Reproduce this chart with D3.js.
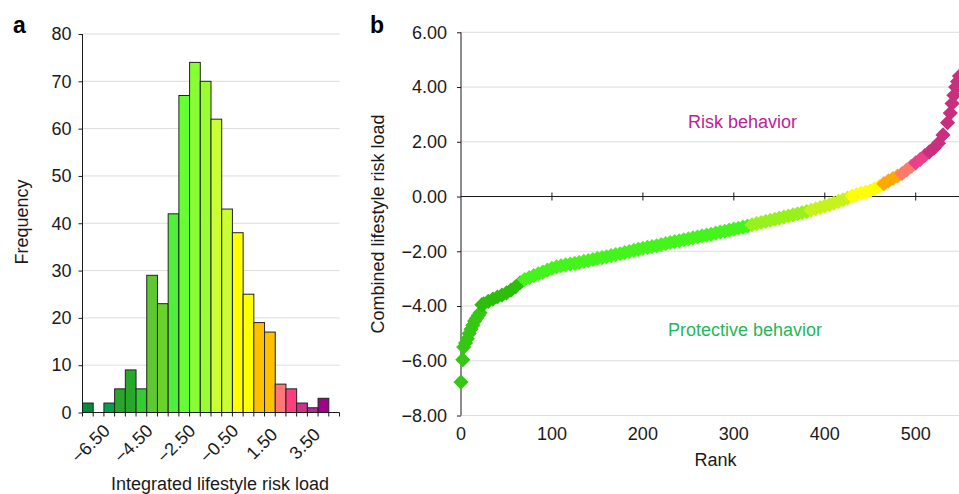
<!DOCTYPE html>
<html>
<head>
<meta charset="utf-8">
<script src="https://cdn.jsdelivr.net/npm/d3@7"></script>
<style>
  body { margin: 0; background: #fff; }
  svg { display: block; font-family: "Liberation Sans", Arial, sans-serif; }
</style>
</head>
<body>
<svg id="chart" width="959" height="494"></svg>
<script>
// panel a: histogram of integrated lifestyle risk load
const binCentres = [-6.5, -6.0, -5.5, -5.0, -4.5, -4.0, -3.5, -3.0, -2.5, -2.0, -1.5, -1.0,
                    -0.5, 0.0, 0.5, 1.0, 1.5, 2.0, 2.5, 3.0, 3.5, 4.0, 4.5, 5.0];
const binCounts = [2, 0, 2, 5, 9, 5, 29, 23, 42, 67, 74, 70, 62, 43, 38, 25, 19, 17, 6, 5, 2, 1, 3, 0];
const binColours = ["#008a3c", "#008a3c", "#00a04e", "#2aa52c", "#28a82a", "#33cc33", "#5ec832", "#6ad22b",
                    "#4ef03a", "#66ff33", "#88ff33", "#99ff33", "#ccff33", "#ccff33", "#ffff00", "#ffff00",
                    "#ffc000", "#ffc000", "#ff7777", "#ff3d7f", "#cc3388", "#b02a98", "#a0008a", "#a0008a"];
const freqTicks = [0, 10, 20, 30, 40, 50, 60, 70, 80];
const binLabelEvery = 4;

// panel b: combined lifestyle risk load by rank
const ranks = [0, 2, 3, 5, 7, 9, 11, 13, 15, 17, 19, 21, 23, 25, 30, 35, 40, 45, 50, 55, 60, 65,
  70, 75, 80, 85, 90, 95, 100, 105, 110, 115, 120, 125, 130, 135, 140, 145, 150, 155, 160, 165,
  170, 175, 180, 185, 190, 195, 200, 205, 210, 215, 220, 225, 230, 235, 240, 245, 250, 255, 260,
  265, 270, 275, 280, 285, 290, 295, 300, 305, 310, 315, 320, 325, 330, 335, 340, 345, 350, 355,
  360, 365, 370, 375, 380, 385, 390, 395, 400, 405, 410, 415, 420, 425, 430, 435, 440, 445, 450,
  455, 460, 465, 470, 475, 480, 485, 490, 495, 500, 505, 510, 515, 520, 525, 530, 535, 538, 540,
  542, 544, 546, 548];
const riskLoads = [-6.78, -5.96, -5.5, -5.35, -5.2, -5.0, -4.85, -4.7, -4.55, -4.45, -4.35, -4.25,
  -3.95, -3.92, -3.83, -3.75, -3.67, -3.6, -3.52, -3.42, -3.3, -3.15, -3.03, -2.96, -2.89, -2.82,
  -2.76, -2.69, -2.62, -2.57, -2.53, -2.5, -2.47, -2.44, -2.41, -2.37, -2.34, -2.3, -2.26, -2.23,
  -2.2, -2.16, -2.12, -2.09, -2.05, -2.01, -1.97, -1.93, -1.89, -1.86, -1.83, -1.8, -1.76, -1.72,
  -1.68, -1.65, -1.62, -1.58, -1.55, -1.51, -1.48, -1.44, -1.41, -1.38, -1.34, -1.3, -1.27, -1.23,
  -1.19, -1.16, -1.12, -1.08, -1.03, -0.99, -0.95, -0.91, -0.87, -0.83, -0.79, -0.75, -0.71, -0.67,
  -0.63, -0.59, -0.55, -0.5, -0.45, -0.4, -0.35, -0.3, -0.24, -0.18, -0.12, -0.06, 0.02, 0.07, 0.12,
  0.16, 0.21, 0.29, 0.38, 0.47, 0.57, 0.66, 0.75, 0.84, 0.97, 1.1, 1.23, 1.36, 1.5, 1.63, 1.77, 1.95,
  2.25, 2.7, 3.05, 3.4, 3.7, 4.0, 4.2, 4.4];
const rankBreaks = [23, 68, 318, 382, 428, 462, 484, 500, 511];
const rankColours = ["#34c812", "#2cbe0a", "#44f41c", "#96f21a", "#c6f21e", "#ffff00",
                     "#ffa800", "#ff7a6c", "#e8428a", "#c8307e"];
const loadTicks = [-8, -6, -4, -2, 0, 2, 4, 6];
const rankTicks = [0, 100, 200, 300, 400, 500];

const svg = d3.select("#chart");
const TEXT = "#1a1a1a";
const GRID = "#dcdcdc";
const FONT = "18px";

function styleAxis(g) {
  g.select(".domain").remove();
  g.selectAll(".tick line").attr("stroke", TEXT);
  g.selectAll(".tick text").attr("fill", TEXT).style("font-size", FONT);
}

// ---------- panel a ----------
const xA = d3.scaleBand()
    .domain(binCentres)
    .range([82.5, 339.5])
    .padding(0);

const yA = d3.scaleLinear()
    .domain([0, 80])
    .range([412.5, 34]);

const panelA = svg.append("g").attr("id", "panelA");

panelA.selectAll("line.grid")
  .data(freqTicks.filter(d => d > 0))
    .enter()
  .append("line")
    .attr("class", "grid")
    .attr("x1", xA.range()[0])
    .attr("x2", xA.range()[1])
    .attr("y1", d => yA(d))
    .attr("y2", d => yA(d))
    .attr("stroke", GRID)
    .attr("stroke-width", 1);

panelA.selectAll("rect.bin")
  .data(binCentres.map((d, i) => ({x: d, n: binCounts[i], c: binColours[i]})).filter(d => d.n > 0))
    .enter()
  .append("rect")
    .attr("class", "bin")
    .attr("x", d => xA(d.x))
    .attr("y", d => yA(d.n))
    .attr("width", xA.bandwidth())
    .attr("height", d => yA(0) - yA(d.n))
    .attr("fill", d => d.c)
    .attr("stroke", "#222")
    .attr("stroke-width", 1);

panelA.append("g")
    .attr("transform", `translate(${xA.range()[0]},0)`)
    .call(d3.axisLeft(yA).tickValues(freqTicks).tickSize(4).tickSizeOuter(0).tickPadding(7))
    .call(styleAxis);

panelA.append("line")
    .attr("x1", xA.range()[0]).attr("x2", xA.range()[0])
    .attr("y1", yA(80)).attr("y2", yA(0))
    .attr("stroke", TEXT);

panelA.append("line")
    .attr("x1", xA.range()[0]).attr("x2", xA.range()[1])
    .attr("y1", yA(0)).attr("y2", yA(0))
    .attr("stroke", TEXT);

// tick marks at every bin edge
const binEdges = binCentres.map(d => xA(d)).concat([xA.range()[1]]);
panelA.selectAll("line.edge")
  .data(binEdges)
    .enter()
  .append("line")
    .attr("class", "edge")
    .attr("x1", d => d).attr("x2", d => d)
    .attr("y1", yA(0)).attr("y2", yA(0) + 4)
    .attr("stroke", TEXT);

const fmt2 = d3.format(".2f");

panelA.selectAll("text.binLabel")
  .data(binCentres.filter((d, i) => i % binLabelEvery === 0 && i < 21))
    .enter()
  .append("text")
    .attr("class", "binLabel")
    .attr("transform", d => `translate(${xA(d) + xA.bandwidth() / 2 + 7},448) rotate(-45)`)
    .attr("text-anchor", "middle")
    .attr("fill", TEXT)
    .style("font-size", FONT)
    .text(d => fmt2(d));

panelA.append("text")
    .attr("transform", "translate(28,222) rotate(-90)")
    .attr("text-anchor", "middle")
    .attr("fill", TEXT)
    .style("font-size", FONT)
    .text("Frequency");

panelA.append("text")
    .attr("x", 220).attr("y", 489.5)
    .attr("text-anchor", "middle")
    .attr("fill", TEXT)
    .style("font-size", FONT)
    .text("Integrated lifestyle risk load");

// ---------- panel b ----------
const xB = d3.scaleLinear()
    .domain([0, 550])
    .range([461, 961.2]);

const yB = d3.scaleLinear()
    .domain([-8, 6])
    .range([415.5, 32.3]);

const colourB = d3.scaleThreshold()
    .domain(rankBreaks)
    .range(rankColours);

const panelB = svg.append("g").attr("id", "panelB");

panelB.selectAll("line.grid")
  .data(loadTicks.filter(d => d !== 0))
    .enter()
  .append("line")
    .attr("class", "grid")
    .attr("x1", xB(0)).attr("x2", xB.range()[1])
    .attr("y1", d => yB(d)).attr("y2", d => yB(d))
    .attr("stroke", GRID)
    .attr("stroke-width", 1);

panelB.append("g")
    .attr("transform", `translate(${xB(0)},0)`)
    .call(d3.axisLeft(yB).tickValues(loadTicks).tickSize(4).tickSizeOuter(0).tickPadding(10)
      .tickFormat(fmt2))
    .call(styleAxis);

panelB.append("line")
    .attr("x1", xB(0)).attr("x2", xB(0))
    .attr("y1", yB(6)).attr("y2", yB(-8))
    .attr("stroke", TEXT);

panelB.append("line")
    .attr("x1", xB(0)).attr("x2", xB.range()[1])
    .attr("y1", yB(0)).attr("y2", yB(0))
    .attr("stroke", TEXT);

panelB.selectAll("line.rankTick")
  .data(rankTicks.filter(d => d > 0))
    .enter()
  .append("line")
    .attr("class", "rankTick")
    .attr("x1", d => xB(d)).attr("x2", d => xB(d))
    .attr("y1", yB(0) - 4).attr("y2", yB(0) + 4)
    .attr("stroke", TEXT);

// rank labels sit below the plot area
panelB.selectAll("text.rankLabel")
  .data(rankTicks)
    .enter()
  .append("text")
    .attr("class", "rankLabel")
    .attr("x", d => xB(d))
    .attr("y", 440)
    .attr("text-anchor", "middle")
    .attr("fill", TEXT)
    .style("font-size", FONT)
    .text(d => d);

const diamond = d3.symbol().type(d3.symbolSquare).size(115);

panelB.selectAll("path.point")
  .data(ranks.map((r, i) => ({rank: r, load: riskLoads[i]})))
    .enter()
  .append("path")
    .attr("class", "point")
    .attr("d", diamond)
    .attr("transform", d => `translate(${xB(d.rank)},${yB(d.load)}) rotate(45)`)
    .attr("fill", d => colourB(d.rank));

panelB.append("text")
    .attr("x", 688).attr("y", 128)
    .attr("fill", "#bb2299")
    .style("font-size", FONT)
    .text("Risk behavior");

panelB.append("text")
    .attr("x", 668).attr("y", 336)
    .attr("fill", "#1fb85a")
    .style("font-size", FONT)
    .text("Protective behavior");

panelB.append("text")
    .attr("transform", "translate(383.5,224) rotate(-90)")
    .attr("text-anchor", "middle")
    .attr("fill", TEXT)
    .style("font-size", FONT)
    .text("Combined lifestyle risk load");

panelB.append("text")
    .attr("x", 715.5).attr("y", 466)
    .attr("text-anchor", "middle")
    .attr("fill", TEXT)
    .style("font-size", FONT)
    .text("Rank");

// panel letters
svg.selectAll("text.panelLetter")
  .data([{label: "a", x: 13}, {label: "b", x: 370}])
    .enter()
  .append("text")
    .attr("class", "panelLetter")
    .attr("x", d => d.x)
    .attr("y", 33)
    .attr("fill", "#000")
    .style("font-size", "23px")
    .style("font-weight", "bold")
    .text(d => d.label);
</script>
</body>
</html>
